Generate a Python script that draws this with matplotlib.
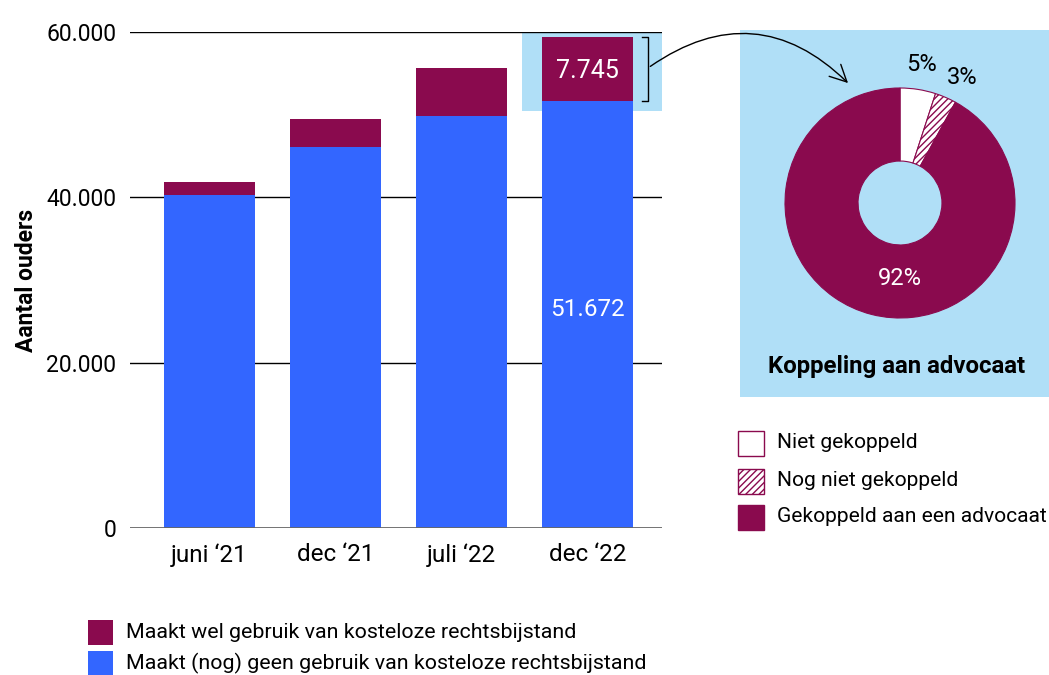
import matplotlib
matplotlib.use("Agg")
import matplotlib.pyplot as plt
from matplotlib.patches import Rectangle
import numpy as np

plt.rcParams['font.family'] = ['Roboto', 'DejaVu Sans']

categories = ["juni \u201821", "dec \u201821", "juli \u201822", "dec \u201822"]
geen_gebruik = [40300, 46070, 49820, 51672]
wel_gebruik = [1540, 3390, 5810, 7745]
yticks = [0, 20000, 40000, 60000]
ytick_labels = ["0", "20.000", "40.000", "60.000"]

pie_labels = ["Niet gekoppeld", "Nog niet gekoppeld", "Gekoppeld aan een advocaat"]
pie_values = [5, 3, 92]
pie_texts = ["5%", "3%", "92%"]

bar_legend = ["Maakt wel gebruik van kosteloze rechtsbijstand",
              "Maakt (nog) geen gebruik van kosteloze rechtsbijstand"]

BLUE = "#3366FF"
PURPLE = "#8A0A4E"
LIGHT = "#B0DFF7"

W, H = 1049, 675
fig = plt.figure(figsize=(W / 100, H / 100), dpi=100)

def fx(px):
    return px / W

def fy(py):
    return 1 - py / H

# main bar axes
ax = fig.add_axes([fx(130), fy(528), fx(662) - fx(130), fy(32) - fy(528)])
x = np.arange(len(categories))
ax.bar(x, geen_gebruik, width=0.72, color=BLUE, zorder=3)
ax.bar(x, wel_gebruik, bottom=geen_gebruik, width=0.72, color=PURPLE, zorder=3)
ax.set_xlim(-0.63, 3.59)
ax.set_ylim(0, 60000)
ax.set_yticks(yticks)
ax.set_yticklabels(ytick_labels, fontsize=16.5)
ax.set_xticks(x)
ax.set_xticklabels(categories, fontsize=17.5)
ax.tick_params(axis='y', length=0, pad=10)
ax.tick_params(axis='x', length=0, pad=11)
for s in ax.spines.values():
    s.set_visible(False)
for yv in yticks[1:]:
    ax.axhline(yv, color="black", lw=1.0, zorder=2)
ax.axhline(0, color="#666666", lw=2.0, zorder=4)
ax.set_ylabel("Aantal ouders", fontsize=16.5, fontweight="bold", labelpad=6)

# highlight rectangle behind last bar
tot_last = geen_gebruik[-1] + wel_gebruik[-1]
ax.add_patch(Rectangle((2.48, 50400), 3.59 - 2.48, 60000 - 50400,
                       facecolor=LIGHT, edgecolor="none", zorder=1, clip_on=False))
# bracket
bx0, bx1 = 3.43, 3.48
ax.plot([bx0, bx1, bx1, bx0], [geen_gebruik[-1], geen_gebruik[-1], tot_last, tot_last],
        color="black", lw=1.0, zorder=5, clip_on=False)

ax.text(x[-1], geen_gebruik[-1] + wel_gebruik[-1] / 2 - 300, "7.745", color="white",
        fontsize=18, ha="center", va="center", zorder=6)
ax.text(x[-1], geen_gebruik[-1] / 2 + 600, "51.672", color="white",
        fontsize=17.5, ha="center", va="center", zorder=6)

# right panel background
fig.add_artist(Rectangle((fx(740), fy(397)), fx(1049) - fx(740), fy(30) - fy(397),
                         transform=fig.transFigure, facecolor=LIGHT,
                         edgecolor="none", zorder=0))

# donut
R = 115
cx, cy = 900, 203
pax = fig.add_axes([fx(cx - R), fy(cy + R), fx(2 * R), fy(cy - R) - fy(cy + R)])
pax.set_facecolor("none")
wedges, _ = pax.pie(pie_values, startangle=90, counterclock=False,
                    colors=["white", "white", PURPLE],
                    wedgeprops=dict(width=0.635, edgecolor=PURPLE, linewidth=0.8))
wedges[1].set_hatch("/////")
pax.set_xlim(-1, 1)
pax.set_ylim(-1, 1)
pax.set_aspect("equal")

# labels for slices
start = 90.0
total = sum(pie_values)
for i, (v, t) in enumerate(zip(pie_values, pie_texts)):
    mid = start - 360.0 * v / total / 2
    start -= 360.0 * v / total
    if i < 2:
        ang = np.deg2rad(mid + (0 if i == 0 else -3))
        pax.text(1.22 * np.cos(ang), 1.22 * np.sin(ang), t, fontsize=17,
                 ha="center", va="center", clip_on=False)
    else:
        pax.text(0, -0.66, t, fontsize=17, color="white", ha="center", va="center")

fig.text(fx(897), fy(367), "Koppeling aan advocaat", fontsize=17.3, fontweight="bold",
         ha="center", va="center")

# arrow
fig.add_artist(matplotlib.patches.FancyArrowPatch(
    (fx(648), fy(68)), (fx(850), fy(85)), transform=fig.transFigure,
    connectionstyle="arc3,rad=-0.42", arrowstyle="->,head_length=8,head_width=4",
    color="black", lw=1.0, mutation_scale=1.5))

# right legend
leg_rows = [443, 481, 517]
for lab, yy, i in zip(pie_labels, leg_rows, range(3)):
    face = PURPLE if i == 2 else "white"
    r = Rectangle((fx(738), fy(yy + 12.5)), fx(26), fy(0) - fy(25),
                  transform=fig.transFigure, facecolor=face, edgecolor=PURPLE,
                  lw=1.0, hatch="/////" if i == 1 else None, zorder=3)
    fig.add_artist(r)
    fig.text(fx(777), fy(yy), lab, fontsize=15.1, ha="left", va="center")

# bottom legend
for lab, yy, col in zip(bar_legend, [632, 663], [PURPLE, BLUE]):
    fig.add_artist(Rectangle((fx(88), fy(yy + 12.5)), fx(25), fy(0) - fy(25),
                             transform=fig.transFigure, facecolor=col,
                             edgecolor="none"))
    fig.text(fx(126), fy(yy), lab, fontsize=15.4, ha="left", va="center")

fig.savefig("out.png", dpi=100)
